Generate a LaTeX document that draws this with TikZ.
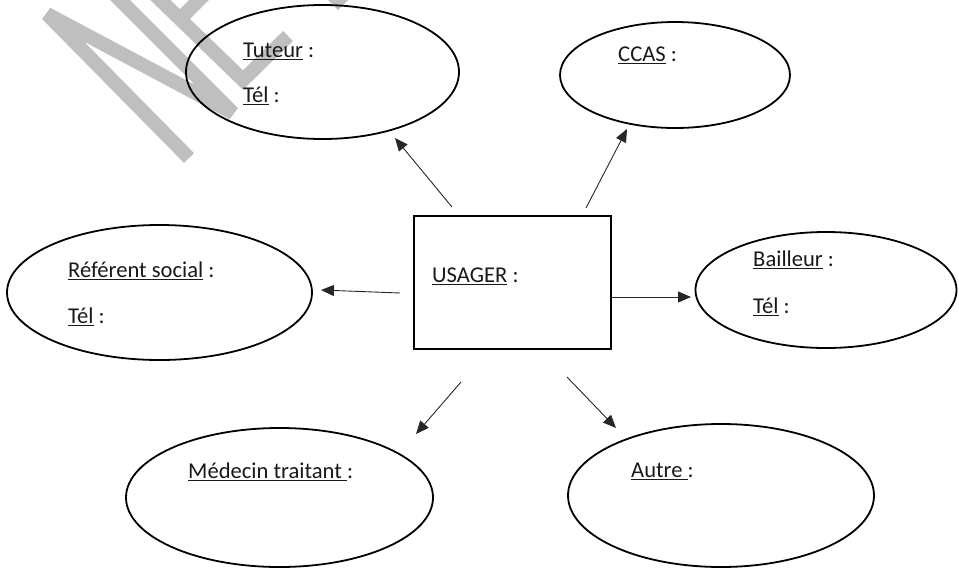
\documentclass[tikz,border=0pt]{standalone}
\usepackage{fontspec}
\setmainfont{Carlito}
\usetikzlibrary{shapes.geometric,arrows.meta}
\newcommand\myul[1]{\setbox0\hbox{#1}\rlap{\rule[-3pt]{\wd0}{1.2pt}}\box0\relax}
\begin{document}
\begin{tikzpicture}[x=1pt,y=-1pt,
  bub/.style={draw, ellipse, line width=1.8pt, inner sep=0pt},
  boxnode/.style={draw, rectangle, line width=1.8pt, inner sep=0pt},
  lbl/.style={anchor=base west, inner sep=0pt, text=black!90, font=\fontsize{22.6}{27}\selectfont},
  arr/.style={-{Triangle[length=13pt,width=11pt]}, line width=0.9pt, draw=black!85},
  wm/.style={draw=black!25, line width=14pt}]
\useasboundingbox (0,0) rectangle (959,568);
% watermark
\draw[wm, line join=bevel] (189,158) -- (47,14) -- (233,113) -- (100,-20);
\draw[wm, line join=miter] (150,-10) -- (243,80) -- (288,36);
\draw[wm] (180,19) -- (215,-16);
\fill[black!25] (326,-2) -- (350,-2) -- (338,10) -- cycle;
% shapes
\node[bub, minimum width=273pt, minimum height=134pt] (tuteur) at (322.5,72) {};
\node[bub, minimum width=230pt, minimum height=106pt] (ccas) at (675,75) {};
\node[bub, minimum width=305pt, minimum height=135pt] (referent) at (159.5,292.5) {};
\node[bub, minimum width=261pt, minimum height=116pt] (bailleur) at (826,290) {};
\node[bub, minimum width=307pt, minimum height=139pt] (medecin) at (279.5,497.5) {};
\node[bub, minimum width=306pt, minimum height=143pt] (autre) at (721,495.5) {};
\node[boxnode, minimum width=197pt, minimum height=133pt] (usager) at (512.5,282.5) {};
% texts
\node[lbl] (tTut) at (243,57) {\myul{Tuteur} :};
\node[lbl] (tTutTel) at (243,102) {\myul{Tél} :};
\node[lbl] (tCcas) at (618,61) {\myul{CCAS} :};
\node[lbl] (tUsager) at (432,282) {\myul{USAGER} :};
\node[lbl] (tRef) at (68,277) {\myul{Référent social} :};
\node[lbl] (tRefTel) at (68,323) {\myul{Tél} :};
\node[lbl] (tBail) at (753,266) {\myul{Bailleur} :};
\node[lbl] (tBailTel) at (753,313) {\myul{Tél} :};
\node[lbl] (tMed) at (188,478) {\myul{Médecin traitant\ }:};
\node[lbl] (tAutre) at (631,477) {\myul{Autre\ }:};
% arrow end points
\coordinate (s1) at (452,207); \coordinate (e1) at (395,138);
\coordinate (s2) at (586,208); \coordinate (e2) at (627,129);
\coordinate (s3) at (400,293); \coordinate (e3) at (321,290);
\coordinate (e4) at (691,297);
\coordinate (s5) at (461,382); \coordinate (e5) at (416,434);
\coordinate (s6) at (567,377); \coordinate (e6) at (616,428);
\draw[arr] (s1) -- (e1);
\draw[arr] (s2) -- (e2);
\draw[arr] (s3) -- (e3);
\draw[arr] (usager.east |- e4) -- (e4);
\draw[arr] (s5) -- (e5);
\draw[arr] (s6) -- (e6);
\end{tikzpicture}
\end{document}
